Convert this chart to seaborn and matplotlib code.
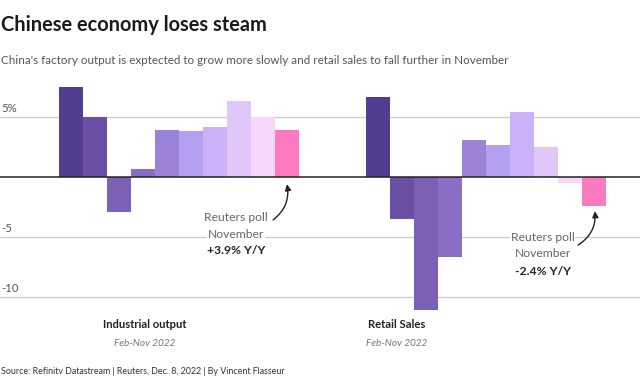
import matplotlib
matplotlib.use("Agg")
import matplotlib.pyplot as plt
import seaborn as sns
import pandas as pd

# ── Data ─────────────────────────────────────────────────────────────────────
months = ["Jan-Feb", "Mar", "Apr", "May", "Jun", "Jul", "Aug", "Sep", "Oct", "Nov"]
industrial = [7.5, 5.0, -2.9, 0.7, 3.9, 3.8, 4.2, 6.3, 5.0, 3.9]
retail = [6.7, -3.5, -11.1, -6.7, 3.1, 2.7, 5.4, 2.5, -0.5, -2.4]
month_colors = ["#533d90", "#6a4fa4", "#7b60b6", "#8a6dc5", "#9c83d9",
                "#b49ff0", "#cbb1f7", "#e0c6f9", "#f6d7f9", "#fb7ac0"]
group_offset = 12.8  # retail bars start after a gap
yticks = [5, -5, -10]
ytick_labels = ["5%", "-5", "-10"]

df = pd.DataFrame({
    "pos": list(range(10)) + [group_offset + i for i in range(10)],
    "value": industrial + retail,
    "month": months * 2,
})

# ── Style ────────────────────────────────────────────────────────────────────
sns.set_theme(style="white")
plt.rcParams["font.family"] = ["Lato", "DejaVu Sans"]

W, H = 640, 388
fig = plt.figure(figsize=(W / 100, H / 100), dpi=100)
ax = fig.add_axes([0, 1 - 312 / H, 1, (312 - 85) / H])

sns.barplot(data=df, x="pos", y="value", hue="month", palette=month_colors,
            hue_order=months, native_scale=True, dodge=False, width=1,
            saturation=1, linewidth=0, legend=False, ax=ax, zorder=3)

ax.set_xlim(-70.5 / 24, (640 - 70.5) / 24)
ax.set_ylim((177 - 312) / 12, (177 - 85) / 12)
ax.axis("off")

for y, lab in zip(yticks, ytick_labels):
    ax.axhline(y, color="#cccccc", lw=0.9, zorder=1)
    ax.text(0.002, y + 0.25, lab, transform=ax.get_yaxis_transform(),
            ha="left", va="bottom", fontsize=8.2, color="#555555")
ax.axhline(0, color="#222222", lw=1.1, zorder=4)

# ── Annotations ──────────────────────────────────────────────────────────────
box = dict(fc="white", ec="none", pad=0.5)


def poll_note(xc, ys, value_text, tail, head):
    for txt, yy, bold in zip(["Reuters poll", "November", value_text], ys,
                             [False, False, True]):
        ax.text(xc, yy, txt, ha="center", va="center", fontsize=8.7,
                color="#222222" if bold else "#666666",
                fontweight="bold" if bold else "normal", bbox=box, zorder=5)
    ax.annotate("", xy=head, xytext=tail, zorder=6,
                arrowprops=dict(arrowstyle="-|>", color="#222222", lw=1,
                                connectionstyle="arc3,rad=0.3",
                                mutation_scale=9, shrinkA=0, shrinkB=0))


poll_note(6.9, [-3.39, -4.75, -6.14], "+3.9% Y/Y", (8.44, -3.58), (9.02, -0.6))
poll_note(19.67, [-5.08, -6.39, -7.89], "-2.4% Y/Y", (21.15, -5.67), (21.85, -2.85))

# ── Titles and labels ────────────────────────────────────────────────────────
fig.text(1 / W, 1 - 25 / H, "Chinese economy loses steam", fontsize=14.4,
         fontweight="bold", color="#1a1a1a", va="center", ha="left")
fig.text(1 / W, 1 - 60 / H,
         "China's factory output is exptected to grow more slowly and retail sales to fall further in November",
         fontsize=8.4, color="#555555", va="center", ha="left")

for xc, name in [(145, "Industrial output"), (397, "Retail Sales")]:
    fig.text(xc / W, 1 - 325 / H, name, fontsize=8.1, fontweight="bold",
             color="#222222", ha="center", va="center")
    fig.text(xc / W, 1 - 343 / H, "Feb-Nov 2022", fontsize=7.2, style="italic",
             color="#777777", ha="center", va="center")

fig.text(1 / W, 1 - 372 / H,
         "Source: Refinitv Datastream | Reuters, Dec. 8, 2022 | By Vincent Flasseur",
         fontsize=6.4, color="#333333", ha="left", va="center")

fig.savefig("out.png", dpi=100)
